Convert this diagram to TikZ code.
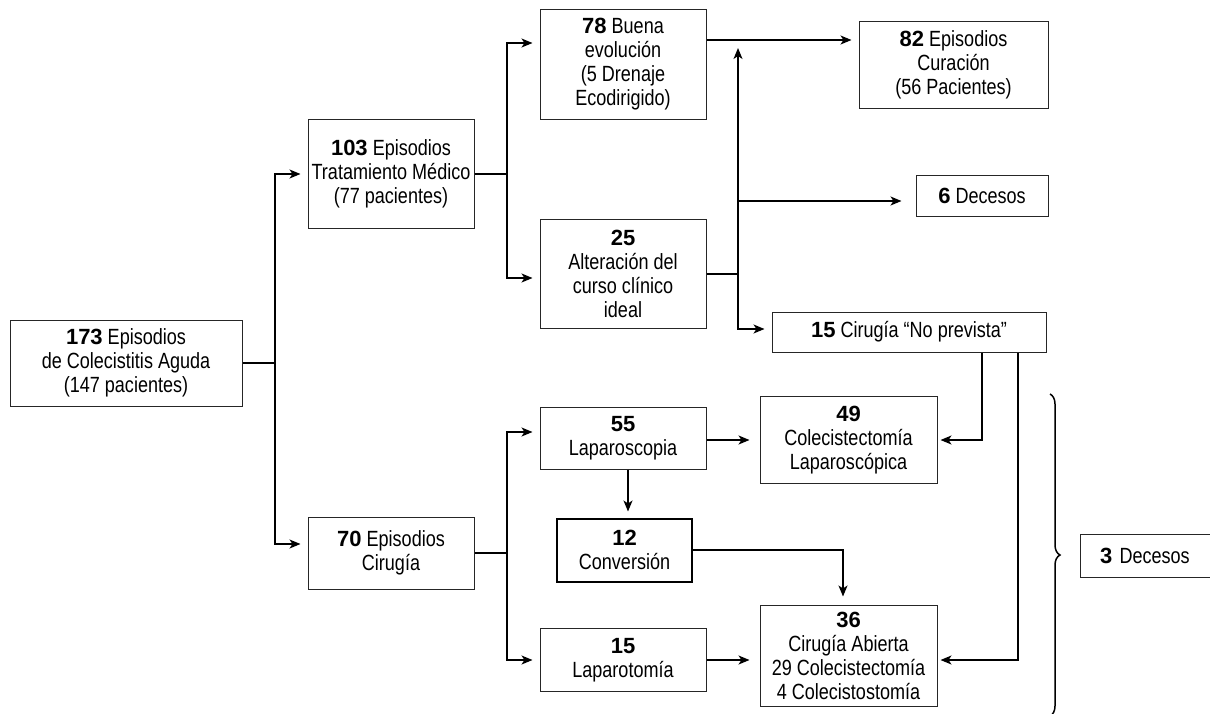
\documentclass[tikz,border=0pt]{standalone}
\usepackage{fontspec}
\setmainfont[FakeStretch=0.82]{Liberation Sans}
\newfontfamily\numfont{Liberation Sans}
\newcommand\nb[1]{{\numfont\bfseries #1}}
\usetikzlibrary{arrows.meta,decorations.pathreplacing,calc}
\begin{document}
\begin{tikzpicture}[x=1pt,y=-1pt,
  box/.style={draw=black!85, line width=1pt, align=center, inner sep=0pt,
    font=\fontsize{22}{24}\selectfont},
  conn/.style={line width=1.4pt, black},
  arr/.style={conn, -{Stealth[length=11pt,width=9pt,inset=3pt]}, shorten >=7pt}]
\useasboundingbox (0,0) rectangle (1210,713);

\node[box, minimum width=232, minimum height=86] (A) at (126,363)
  {\nb{173} Episodios\\de Colecistitis Aguda\\(147 pacientes)};
\node[box, minimum width=166, minimum height=109] (B) at (391,174)
  {\nb{103} Episodios\\Tratamiento Médico\\(77 pacientes)};
\node[box, minimum width=166, minimum height=72] (C) at (391,553)
  {\nb{70} Episodios\\Cirugía};
\node[box, minimum width=166, minimum height=110] (D) at (623,64)
  {\nb{78} Buena\\evolución\\(5 Drenaje\\Ecodirigido)};
\node[box, minimum width=166, minimum height=109] (E) at (623,274)
  {\nb{25}\\Alteración del\\curso clínico\\ideal};
\node[box, minimum width=189, minimum height=87] (F) at (953.5,64.5)
  {\nb{82} Episodios\\Curación\\(56 Pacientes)};
\node[box, minimum width=132, minimum height=41] (H) at (982,195.5)
  {\nb{6} Decesos};
\node[box, minimum width=274, minimum height=40] (G) at (909,332)
  {\nb{15} Cirugía “No prevista”};
\node[box, minimum width=166, minimum height=62] (I) at (623,438)
  {\nb{55}\\Laparoscopia};
\node[box, minimum width=177, minimum height=87] (J) at (848.5,440)
  {\nb{49}\\Colecistectomía\\Laparoscópica};
\node[box, line width=2pt, draw=black, minimum width=135, minimum height=63] (K) at (624.5,550)
  {\nb{12}\\Conversión};
\node[box, minimum width=166, minimum height=63] (L) at (623,660)
  {\nb{15}\\Laparotomía};
\node[box, minimum width=177, minimum height=101] (M) at (848.5,655.5)
  {\nb{36}\\Cirugía Abierta\\29 Colecistectomía\\4 Colecistostomía};
\node[box, minimum width=135, minimum height=43, text width=95, align=left, inner xsep=20pt] (N) at (1147.5,555.5)
  {\nb{3} Decesos};

% junctions
\coordinate (jA) at (275,363);
\coordinate (jB) at (507,174);
\coordinate (jC) at (507,553);
\coordinate (jE) at (738,274);
\coordinate (upEnd) at (738,48);

% from A
\draw[conn] (A.east) -- (jA);
\draw[arr] (jA) |- (B.west);
\draw[arr] (jA) |- ([yshift=9pt]C.west);

% from B
\draw[conn] (B.east) -- (jB);
\draw[arr] (jB) |- ([yshift=21pt]D.west);
\draw[arr] (jB) |- ([yshift=-4pt]E.west);

% from D
\draw[arr] ([yshift=24pt]D.east) -- ([yshift=24pt]D.east -| F.west);

% from E
\draw[conn] (E.east) -- (jE);
\draw[arr, shorten >=0pt] (jE) -- (upEnd);
\draw[arr, shorten >=14pt] ([yshift=-5.5pt]H.west -| jE) -- ([yshift=-5.5pt]H.west);
\draw[arr] (jE) |- ([yshift=3pt]G.west);

% from G
\draw[arr, shorten >=3pt] ([xshift=73pt]G.south) |- (J.east);
\draw[arr, shorten >=3pt] ([xshift=109pt]G.south) |- ([yshift=-4.5pt]M.east);

% from C
\draw[conn] (C.east) -- (jC);
\draw[arr] (jC) |- ([yshift=6pt]I.west);
\draw[arr] (jC) |- (L.west);

% surgery branch
\draw[arr, shorten >=10pt] ([yshift=-2pt]I.east) -- ([yshift=-2pt]I.east -| J.west);
\draw[arr, shorten >=6pt] ([xshift=5pt]I.south) -- ([xshift=5pt]I.south |- K.north);
\draw[arr, shorten >=8pt] (K.east) -| ([xshift=-5.5pt]M.north);
\draw[arr, shorten >=10pt] (L.east) -- (L.east -| M.west);

% brace
\draw[line width=1.5pt, decorate, decoration={brace, amplitude=10pt}] (1050,394) -- (1050,716);
\end{tikzpicture}
\end{document}
